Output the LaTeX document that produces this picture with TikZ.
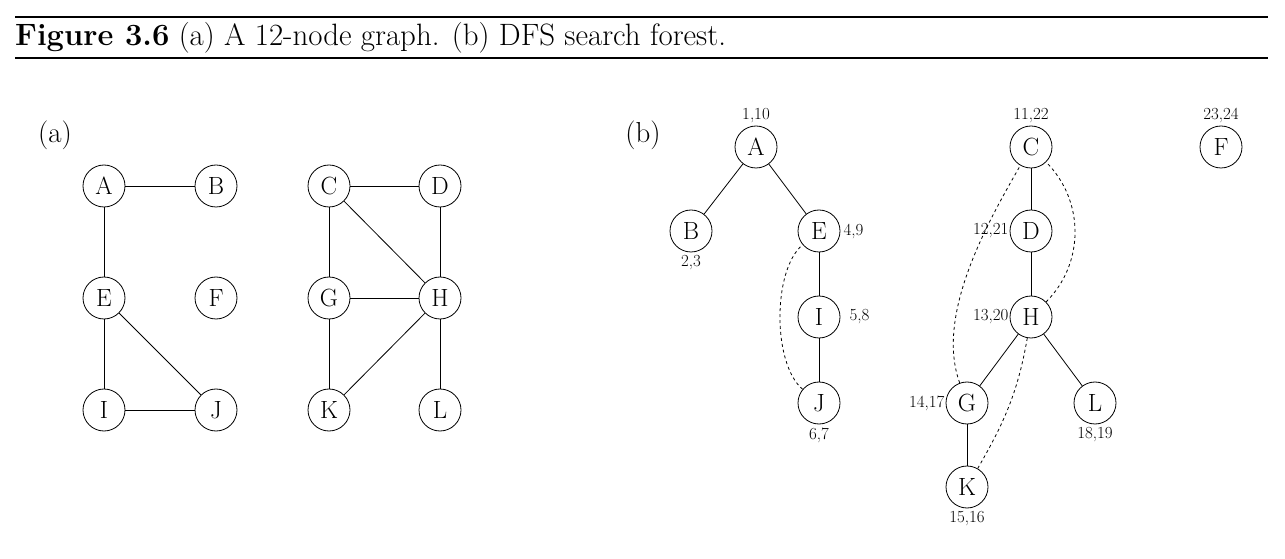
\documentclass[tikz,border=0pt]{standalone}
\usepackage{fontspec}
\setmainfont{Latin Modern Roman}
\begin{document}
\begin{tikzpicture}[x=1bp,y=-1bp,
 vtx/.style={circle,draw,line width=0.8bp,minimum size=42bp,inner sep=0pt,font=\fontsize{25}{27}\selectfont},
 lab/.style={font=\fontsize{17}{19}\selectfont,inner sep=1bp},
 edge/.style={line width=0.8bp},
 back/.style={line width=0.8bp,dashed}]
\useasboundingbox (0,0) rectangle (1285,559);
\draw[line width=2.5bp] (15,17) -- (1268,17);
\draw[line width=1.2bp] (15,58) -- (1268,58);
\node[anchor=base west,font=\fontsize{31}{34}\selectfont,inner sep=0pt] (cap) at (15,46) {\textbf{Figure 3.6} (a) A 12-node graph. (b) DFS search forest.};
\node[font=\fontsize{29}{32}\selectfont] (la) at (55,135) {(a)};
\node[font=\fontsize{29}{32}\selectfont] (lb) at (643,135) {(b)};
% (a)
\node[vtx] (A) at (104,186) {A};
\node[vtx] (B) at (216,186) {B};
\node[vtx] (E) at (104,298) {E};
\node[vtx] (F) at (216,298) {F};
\node[vtx] (I) at (104,410) {I};
\node[vtx] (J) at (216,410) {J};
\node[vtx] (C) at (329,186) {C};
\node[vtx] (D) at (440,186) {D};
\node[vtx] (G) at (329,298) {G};
\node[vtx] (H) at (440,298) {H};
\node[vtx] (K) at (329,410) {K};
\node[vtx] (L) at (440,410) {L};
\foreach \a/\b in {A/B,A/E,E/I,E/J,I/J,C/D,C/G,C/H,D/H,G/H,G/K,K/H,H/L}
  \draw[edge] (\a) -- (\b);
% (b)
\node[vtx] (bA) at (756,147) {A};
\node[vtx] (bB) at (691,231) {B};
\node[vtx] (bE) at (819,231) {E};
\node[vtx] (bI) at (819,317) {I};
\node[vtx] (bJ) at (819,403) {J};
\node[vtx] (bC) at (1031,147) {C};
\node[vtx] (bD) at (1031,231) {D};
\node[vtx] (bH) at (1031,317) {H};
\node[vtx] (bG) at (967,403) {G};
\node[vtx] (bL) at (1095,403) {L};
\node[vtx] (bK) at (967,487) {K};
\node[vtx] (bF) at (1221,147) {F};
\foreach \a/\b in {bA/bB,bA/bE,bE/bI,bI/bJ,bC/bD,bD/bH,bH/bG,bH/bL,bG/bK}
  \draw[edge] (\a) -- (\b);
\draw[back] (bJ) to[out=140,in=-140,looseness=0.7] (bE);
\draw[back] (bG) to[out=110,in=-120,looseness=0.8] (bC);
\draw[back] (bH) to[out=45,in=-45,looseness=1.0] (bC);
\draw[back] (bK) to[out=60,in=-100] (bH);
\node[lab,anchor=south,yshift=2bp] (tA) at (bA.north) {1,10};
\node[lab,anchor=north,yshift=-2bp] (tB) at (bB.south) {2,3};
\node[lab,anchor=west,xshift=2bp] (tE) at (bE.east) {4,9};
\node[lab,anchor=west,xshift=8bp] (tI) at (bI.east) {5,8};
\node[lab,anchor=north,yshift=-2bp] (tJ) at (bJ.south) {6,7};
\node[lab,anchor=south,yshift=2bp] (tC) at (bC.north) {11,22};
\node[lab,anchor=east] (tD) at (bD.west) {12,21};
\node[lab,anchor=east] (tH) at (bH.west) {13,20};
\node[lab,anchor=east] (tG) at (bG.west) {14,17};
\node[lab,anchor=north,yshift=-2bp] (tL) at (bL.south) {18,19};
\node[lab,anchor=north,yshift=-2bp] (tK) at (bK.south) {15,16};
\node[lab,anchor=south,yshift=2bp] (tF) at (bF.north) {23,24};
\end{tikzpicture}
\end{document}
